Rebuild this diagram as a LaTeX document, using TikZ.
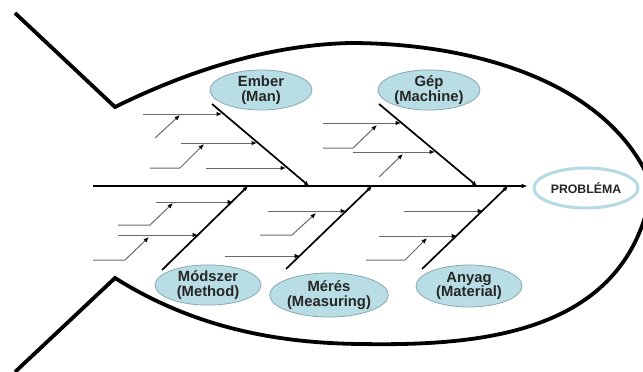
\documentclass[tikz,border=0pt]{standalone}
\usepackage{fontspec}
\setmainfont{Liberation Sans}
\usetikzlibrary{arrows.meta,shapes.geometric}
\definecolor{catfill}{HTML}{B9DDE5}
\definecolor{catline}{HTML}{86A9B2}
\definecolor{probline}{HTML}{B4DAE3}
\definecolor{subline}{HTML}{6A6A6A}
\begin{document}
\begin{tikzpicture}[x=1pt,y=-1pt,
  outline/.style={line width=3.8pt,line join=miter},
  bone/.style={line width=1.7pt,-{Latex[length=5pt,width=4.5pt]}},
  spine/.style={line width=2pt,-{Latex[length=6pt,width=5pt]}},
  sub/.style={line width=1pt,draw=subline,-{Latex[length=5.5pt,width=4.5pt,color=black]}},
  cat/.style={ellipse,draw=catline,line width=0.8pt,fill=catfill,inner sep=0pt,
    minimum width=102pt,minimum height=38pt,align=center,text=black!85,
    font=\bfseries\fontsize{14.8}{14.5}\selectfont},
  prob/.style={ellipse,draw=probline,line width=3pt,fill=white,inner sep=0pt,
    minimum width=104pt,minimum height=40pt,text=black!85,
    font=\bfseries\fontsize{12.3}{13}\selectfont}]
\useasboundingbox (0,0) rectangle (643,372);
\clip (0,0) rectangle (643,372);
% fish outline
\draw[outline] (15,13) -- (115,107)
  .. controls (190,70) and (270,45) .. (350,43)
  .. controls (470,43) and (610,80) .. (652,186);
\draw[outline] (15,372) -- (115,278)
  .. controls (190,325) and (270,343) .. (360,344)
  .. controls (480,346) and (630,335) .. (652,186);
% nodes
\node[prob] (problem) at (586,188) {PROBLÉMA};
\node[cat] (man) at (261,90) {Ember\\(Man)};
\node[cat] (machine) at (429,90) {Gép\\(Machine)};
\node[cat,minimum width=106pt] (method) at (208,285) {Módszer\\(Method)};
\node[cat,minimum height=44pt] (measuring) at (329,295) {Mérés\\(Measuring)};
\node[cat,minimum width=106pt,minimum height=42pt] (material) at (469,286) {Anyag\\(Material)};
% spine
\coordinate (tail) at (93,186);
\draw[spine] (tail) -- (tail -| problem.west) [shorten >=5pt];
% bone ends
\coordinate (manS) at (212,104);   \coordinate (manE) at (309,186);
\coordinate (macS) at (379,104);   \coordinate (macE) at (477,186);
\coordinate (metS) at (162,270);   \coordinate (metE) at (248,186);
\coordinate (meaS) at (286,269);   \coordinate (meaE) at (372,186);
\coordinate (matS) at (422,269);   \coordinate (matE) at (508,186);
\draw[bone] (manS) -- (manE);
\draw[bone] (macS) -- (macE);
\draw[bone] (metS) -- (metE);
\draw[bone] (meaS) -- (meaE);
\draw[bone] (matS) -- (matE);
% Ember sub-bones
\draw[sub] (143,114) -- (222,114);
\draw[sub] (155,138) -- (180,115);
\draw[sub] (181,143) -- (257,143);
\draw[sub] (150,168) -- (180,168) -- (204,144);
\draw[sub] (206,168) -- (286,168);
% Gep sub-bones
\draw[sub] (323,123) -- (401,123);
\draw[sub] (323,148) -- (353,148) -- (377,125);
\draw[sub] (353,152) -- (435,152);
\draw[sub] (379,177) -- (403,154);
% Modszer sub-bones
\draw[sub] (156,202) -- (233,202);
\draw[sub] (118,225) -- (150,225) -- (173,203);
\draw[sub] (118,235) -- (198,235);
\draw[sub] (93,260) -- (125,260) -- (149,237);
% Meres sub-bones
\draw[sub] (268,211) -- (346,211);
\draw[sub] (260,235) -- (292,235) -- (316,213);
\draw[sub] (225,256) -- (300,256);
% Anyag sub-bones
\draw[sub] (404,211) -- (483,211);
\draw[sub] (379,236) -- (457,236);
\draw[sub] (366,260) -- (405,260) -- (427,238);
\end{tikzpicture}
\end{document}
